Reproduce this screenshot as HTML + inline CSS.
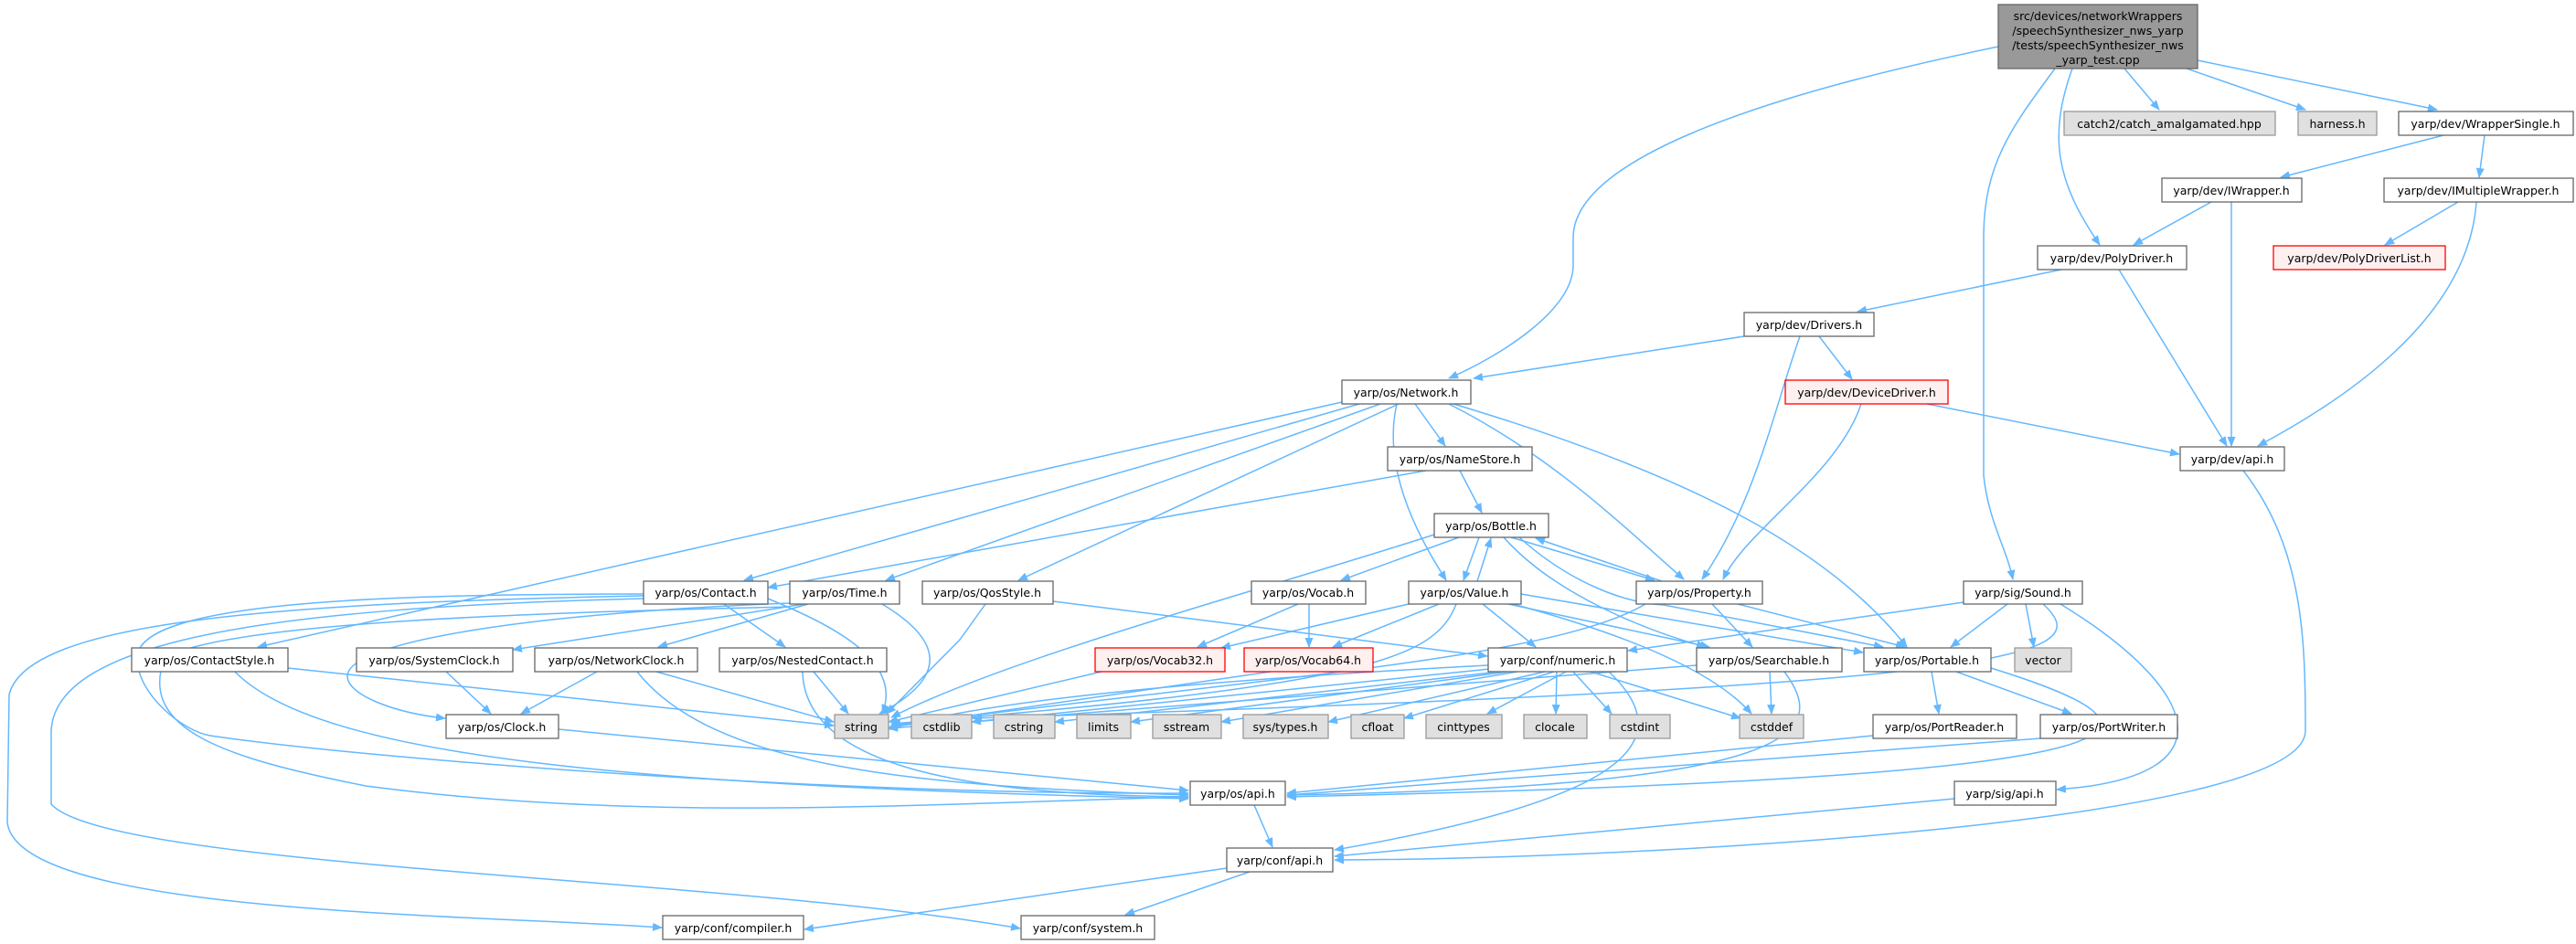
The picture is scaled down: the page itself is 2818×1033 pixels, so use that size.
<!DOCTYPE html>
<html><head><meta charset="utf-8"><style>
html,body{margin:0;padding:0;background:#fff;width:2818px;height:1033px;overflow:hidden}
svg{display:block}
text{font-family:"DejaVu Sans","Liberation Sans",sans-serif;font-size:12.5px;fill:#000;text-anchor:middle}
.e{fill:none;stroke:#63b8ff;stroke-width:1.5}
.n rect{fill:#fff;stroke:#666;stroke-width:1.3}
.g rect{fill:#e0e0e0;stroke:#999;stroke-width:1.3}
.r rect{fill:#fff0f0;stroke:#f00;stroke-width:1.3}
</style></head><body>
<svg width="2818" height="1033" viewBox="0 0 2818 1033" xmlns="http://www.w3.org/2000/svg">
<defs><marker id="a" markerWidth="11" markerHeight="9" refX="10" refY="4.5" orient="auto" markerUnits="userSpaceOnUse"><path d="M0,0 L11,4.5 L0,9z" fill="#63b8ff"/></marker></defs>
<g class="e" marker-end="url(#a)">
<path d="M2186,51 C1900,110 1721,180 1721,260 L1721,290 C1721,340 1640,390 1585,414"/>
<path d="M2248,75 C2200,140 2170,180 2170,260 L2170,520 C2175,570 2195,600 2202,634"/>
<path d="M2267,75 C2240,150 2250,200 2297,268"/>
<path d="M2324,75 L2362,120"/>
<path d="M2392,75 L2522,120"/>
<path d="M2404,66 L2666,120"/>
<path d="M2673,148 L2495,194"/>
<path d="M2718,148 L2712,194"/>
<path d="M2419,221 L2334,268"/>
<path d="M2441,221 L2441,488"/>
<path d="M2689,221 L2609,268"/>
<path d="M2709,221 C2700,350 2560,440 2470,488"/>
<path d="M2255,295 L2032,341"/>
<path d="M2318,295 L2436,488"/>
<path d="M1908,368 L1612,414"/>
<path d="M1990,368 L2026,415"/>
<path d="M1969,368 C1940,450 1920,550 1862,634"/>
<path d="M2108,442 L2384,497"/>
<path d="M2036,442 C2010,520 1910,580 1885,634"/>
<path d="M2454,515 C2520,600 2522,700 2522,800 C2520,900 1800,940 1460,941"/>
<path d="M1487,442 L814,635"/>
<path d="M1468,440 L282,708"/>
<path d="M1510,442 L969,635"/>
<path d="M1530,442 L1114,635"/>
<path d="M1548,442 L1581,488"/>
<path d="M1528,442 C1510,520 1560,600 1582,635"/>
<path d="M1585,442 C1700,500 1780,580 1842,634"/>
<path d="M1590,442 C1850,520 2000,600 2086,708"/>
<path d="M1560,515 L840,643"/>
<path d="M1597,515 L1621,561"/>
<path d="M1569,585 C1400,640 1100,720 975,785"/>
<path d="M1596,588 L1467,635"/>
<path d="M1618,588 L1601,635"/>
<path d="M1616,636 L1631,589"/>
<path d="M1653,588 L1810,635"/>
<path d="M1818,636 L1680,589"/>
<path d="M1645,588 C1700,650 1800,690 1866,708"/>
<path d="M1662,588 C1720,640 1780,660 1820,662 L2060,708"/>
<path d="M1545,660 L1336,709"/>
<path d="M1574,661 L1458,708"/>
<path d="M1622,661 L1680,708"/>
<path d="M1593,661 C1570,720 1500,750 975,792"/>
<path d="M1650,661 L1870,708"/>
<path d="M1664,650 L2038,714"/>
<path d="M1655,661 C1800,700 1880,740 1916,781"/>
<path d="M1432,661 L1432,708"/>
<path d="M1420,661 L1310,708"/>
<path d="M1873,661 L1917,708"/>
<path d="M1901,661 L2084,708"/>
<path d="M1800,661 C1700,720 1400,740 975,794"/>
<path d="M2148,659 L1781,712"/>
<path d="M2196,661 L2134,708"/>
<path d="M2216,661 L2225,708"/>
<path d="M2235,661 C2300,720 2200,750 1064,786"/>
<path d="M2254,661 C2400,750 2450,850 2250,864"/>
<path d="M792,661 L859,708"/>
<path d="M840,655 C900,680 990,720 965,781"/>
<path d="M704,650 C400,650 150,660 150,720 C150,760 200,800 230,805 C400,830 900,870 1300,868"/>
<path d="M704,652 C300,660 30,680 10,760 L8,900 C20,1000 500,1000 724,1015"/>
<path d="M704,655 C300,665 60,700 56,800 L56,880 C120,950 800,960 1116,1016"/>
<path d="M880,661 L561,711"/>
<path d="M884,661 L720,708"/>
<path d="M864,660 C600,670 380,700 380,740 C380,760 430,780 487,786"/>
<path d="M965,661 C1030,700 1040,740 962,781"/>
<path d="M864,664 C600,670 250,680 180,720 C150,800 250,830 400,860 C700,900 1000,880 1300,872"/>
<path d="M1078,661 L1050,700 L970,781"/>
<path d="M1152,658 L1627,718"/>
<path d="M315,731 L912,794"/>
<path d="M257,735 C350,830 700,860 1300,874"/>
<path d="M488,735 L537,781"/>
<path d="M653,735 L570,781"/>
<path d="M718,735 L912,790"/>
<path d="M697,735 C780,840 1000,860 1300,870"/>
<path d="M890,735 L928,781"/>
<path d="M878,735 C880,850 1100,870 1300,872"/>
<path d="M611,798 L1300,865"/>
<path d="M1205,735 L972,790"/>
<path d="M1390,735 L972,796"/>
<path d="M1628,728 C1400,740 1100,760 972,798"/>
<path d="M1630,732 L1063,790"/>
<path d="M1640,735 L1154,790"/>
<path d="M1650,735 L1237,790"/>
<path d="M1660,735 L1336,790"/>
<path d="M1690,735 L1453,790"/>
<path d="M1700,735 L1536,786"/>
<path d="M1713,735 L1627,781"/>
<path d="M1703,735 L1702,781"/>
<path d="M1721,735 L1763,781"/>
<path d="M1740,735 L1904,786"/>
<path d="M1760,735 C1850,820 1750,880 1460,930"/>
<path d="M1856,728 L972,797"/>
<path d="M1936,735 L1938,781"/>
<path d="M1952,735 C2000,800 1980,860 1408,870"/>
<path d="M2113,735 L2121,781"/>
<path d="M2140,735 L2266,781"/>
<path d="M2178,731 C2400,800 2400,850 1408,872"/>
<path d="M2049,805 L1408,868"/>
<path d="M2232,808 L1408,870"/>
<path d="M1372,881 L1392,927"/>
<path d="M2138,874 L1460,937"/>
<path d="M1342,950 L880,1017"/>
<path d="M1367,954 L1231,1001"/>
</g>
<g class="n"><rect x="2186" y="5" width="218" height="70" fill="#999" style="fill:#999"/>
<text x="2295" y="22">src/devices/networkWrappers</text><text x="2295" y="38">/speechSynthesizer_nws_yarp</text><text x="2295" y="54">/tests/speechSynthesizer_nws</text><text x="2295" y="70">_yarp_test.cpp</text></g>
<g class="g"><rect x="2258" y="122" width="231" height="26"/><text x="2373" y="140">catch2/catch_amalgamated.hpp</text></g>
<g class="g"><rect x="2514" y="122" width="86" height="26"/><text x="2557" y="140">harness.h</text></g>
<g class="n"><rect x="2624" y="122" width="191" height="26"/><text x="2719" y="140">yarp/dev/WrapperSingle.h</text></g>
<g class="n"><rect x="2365" y="195" width="153" height="26"/><text x="2441" y="213">yarp/dev/IWrapper.h</text></g>
<g class="n"><rect x="2608" y="195" width="207" height="26"/><text x="2711" y="213">yarp/dev/IMultipleWrapper.h</text></g>
<g class="n"><rect x="2229" y="269" width="163" height="26"/><text x="2310" y="287">yarp/dev/PolyDriver.h</text></g>
<g class="r"><rect x="2487" y="269" width="188" height="26"/><text x="2581" y="287">yarp/dev/PolyDriverList.h</text></g>
<g class="n"><rect x="1908" y="342" width="142" height="26"/><text x="1979" y="360">yarp/dev/Drivers.h</text></g>
<g class="n"><rect x="1468" y="416" width="141" height="26"/><text x="1538" y="434">yarp/os/Network.h</text></g>
<g class="r"><rect x="1953" y="416" width="178" height="26"/><text x="2042" y="434">yarp/dev/DeviceDriver.h</text></g>
<g class="n"><rect x="2385" y="489" width="114" height="26"/><text x="2442" y="507">yarp/dev/api.h</text></g>
<g class="n"><rect x="1518" y="489" width="158" height="26"/><text x="1597" y="507">yarp/os/NameStore.h</text></g>
<g class="n"><rect x="1569" y="562" width="125" height="26"/><text x="1631" y="580">yarp/os/Bottle.h</text></g>
<g class="n"><rect x="704" y="636" width="136" height="25"/><text x="772" y="653">yarp/os/Contact.h</text></g>
<g class="n"><rect x="864" y="636" width="120" height="25"/><text x="924" y="653">yarp/os/Time.h</text></g>
<g class="n"><rect x="1009" y="636" width="143" height="25"/><text x="1080" y="653">yarp/os/QosStyle.h</text></g>
<g class="n"><rect x="1369" y="636" width="125" height="25"/><text x="1431" y="653">yarp/os/Vocab.h</text></g>
<g class="n"><rect x="1541" y="636" width="123" height="25"/><text x="1602" y="653">yarp/os/Value.h</text></g>
<g class="n"><rect x="1790" y="636" width="138" height="25"/><text x="1859" y="653">yarp/os/Property.h</text></g>
<g class="n"><rect x="2148" y="636" width="130" height="25"/><text x="2213" y="653">yarp/sig/Sound.h</text></g>
<g class="n"><rect x="144" y="709" width="171" height="26"/><text x="229" y="727">yarp/os/ContactStyle.h</text></g>
<g class="n"><rect x="390" y="709" width="171" height="26"/><text x="475" y="727">yarp/os/SystemClock.h</text></g>
<g class="n"><rect x="585" y="709" width="178" height="26"/><text x="674" y="727">yarp/os/NetworkClock.h</text></g>
<g class="n"><rect x="787" y="709" width="183" height="26"/><text x="878" y="727">yarp/os/NestedContact.h</text></g>
<g class="r"><rect x="1198" y="709" width="142" height="26"/><text x="1269" y="727">yarp/os/Vocab32.h</text></g>
<g class="r"><rect x="1361" y="709" width="141" height="26"/><text x="1431" y="727">yarp/os/Vocab64.h</text></g>
<g class="n"><rect x="1628" y="709" width="152" height="26"/><text x="1704" y="727">yarp/conf/numeric.h</text></g>
<g class="n"><rect x="1856" y="709" width="159" height="26"/><text x="1935" y="727">yarp/os/Searchable.h</text></g>
<g class="n"><rect x="2039" y="709" width="139" height="26"/><text x="2108" y="727">yarp/os/Portable.h</text></g>
<g class="g"><rect x="2204" y="709" width="62" height="26"/><text x="2235" y="727">vector</text></g>
<g class="n"><rect x="488" y="782" width="123" height="26"/><text x="549" y="800">yarp/os/Clock.h</text></g>
<g class="g"><rect x="913" y="782" width="59" height="26"/><text x="942" y="800">string</text></g>
<g class="g"><rect x="997" y="782" width="66" height="26"/><text x="1030" y="800">cstdlib</text></g>
<g class="g"><rect x="1087" y="782" width="67" height="26"/><text x="1120" y="800">cstring</text></g>
<g class="g"><rect x="1178" y="782" width="59" height="26"/><text x="1207" y="800">limits</text></g>
<g class="g"><rect x="1261" y="782" width="75" height="26"/><text x="1298" y="800">sstream</text></g>
<g class="g"><rect x="1360" y="782" width="93" height="26"/><text x="1406" y="800">sys/types.h</text></g>
<g class="g"><rect x="1478" y="782" width="58" height="26"/><text x="1507" y="800">cfloat</text></g>
<g class="g"><rect x="1560" y="782" width="83" height="26"/><text x="1601" y="800">cinttypes</text></g>
<g class="g"><rect x="1667" y="782" width="69" height="26"/><text x="1701" y="800">clocale</text></g>
<g class="g"><rect x="1761" y="782" width="66" height="26"/><text x="1794" y="800">cstdint</text></g>
<g class="g"><rect x="1903" y="782" width="70" height="26"/><text x="1938" y="800">cstddef</text></g>
<g class="n"><rect x="2049" y="782" width="157" height="26"/><text x="2127" y="800">yarp/os/PortReader.h</text></g>
<g class="n"><rect x="2232" y="782" width="150" height="26"/><text x="2307" y="800">yarp/os/PortWriter.h</text></g>
<g class="n"><rect x="1302" y="855" width="104" height="26"/><text x="1354" y="873">yarp/os/api.h</text></g>
<g class="n"><rect x="2138" y="855" width="111" height="26"/><text x="2193" y="873">yarp/sig/api.h</text></g>
<g class="n"><rect x="1342" y="928" width="116" height="26"/><text x="1400" y="946">yarp/conf/api.h</text></g>
<g class="n"><rect x="725" y="1002" width="154" height="26"/><text x="802" y="1020">yarp/conf/compiler.h</text></g>
<g class="n"><rect x="1117" y="1002" width="146" height="26"/><text x="1190" y="1020">yarp/conf/system.h</text></g>
</svg>
</body></html>
